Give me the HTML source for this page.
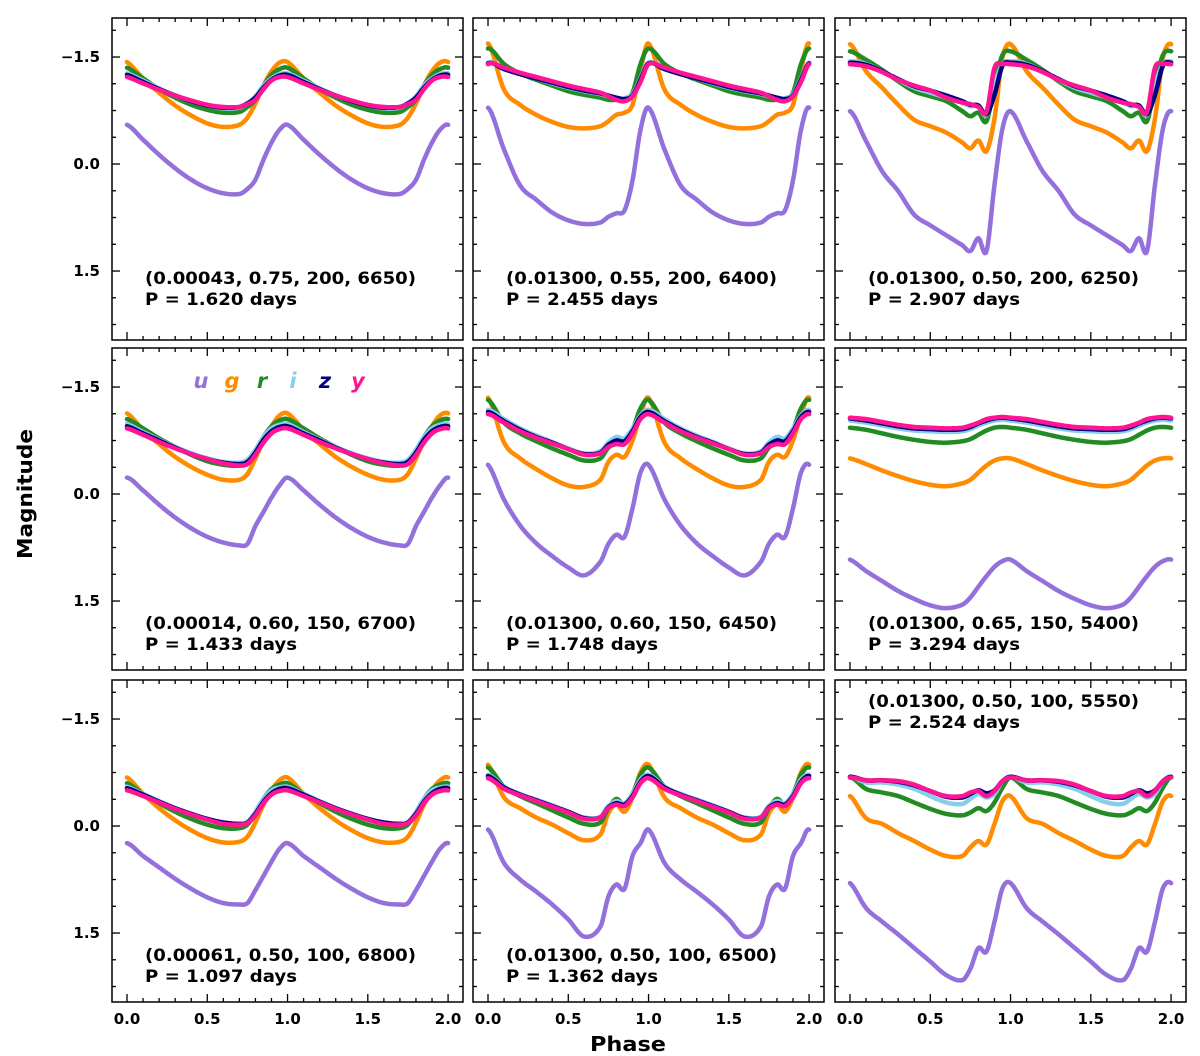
<!DOCTYPE html>
<html><head><meta charset="utf-8"><style>
body{margin:0;background:#fff;}
svg{display:block;font-family:"DejaVu Sans","Liberation Sans",sans-serif;}
</style></head><body>
<svg id="fig" width="1200" height="1056" viewBox="0 0 1200 1056">
<text x="32" y="494" transform="rotate(-90 32 494)" text-anchor="middle" font-size="20" font-weight="bold" textLength="130" lengthAdjust="spacingAndGlyphs">Magnitude</text>
<text x="628" y="1051" text-anchor="middle" font-size="20" font-weight="bold" textLength="76" lengthAdjust="spacingAndGlyphs">Phase</text>
</svg>
<script>
const phases=[0,0.1,0.2,0.3,0.4,0.5,0.6,0.7,0.75,0.8,0.85,0.9,0.95];
const bands=['u','g','r','i','z','y'];
const bandColors=['#9370DB','#FF8C00','#228B22','#87CEEB','#000080','#FF1493'];
const yTicks=[-1.5,0,1.5];
const yTickLabels=['\u22121.5','0.0','1.5'];
const xTicks=[0,0.5,1,1.5,2];
const xTickLabels=['0.0','0.5','1.0','1.5','2.0'];
const labels1=['(0.00043, 0.75, 200, 6650)','(0.01300, 0.55, 200, 6400)','(0.01300, 0.50, 200, 6250)','(0.00014, 0.60, 150, 6700)','(0.01300, 0.60, 150, 6450)','(0.01300, 0.65, 150, 5400)','(0.00061, 0.50, 100, 6800)','(0.01300, 0.50, 100, 6500)','(0.01300, 0.50, 100, 5550)'];
const periods=['1.620','2.455','2.907','1.433','1.748','3.294','1.097','1.362','2.524'];
const p1u=[-0.55,-0.34,-0.13,0.06,0.22,0.34,0.41,0.42,0.35,0.22,-0.06,-0.3,-0.48];
const p1g=[-1.43,-1.2,-1.0,-0.82,-0.68,-0.57,-0.52,-0.55,-0.65,-0.85,-1.1,-1.3,-1.42];
const p1r=[-1.35,-1.2,-1.05,-0.93,-0.83,-0.76,-0.72,-0.73,-0.8,-0.9,-1.1,-1.25,-1.33];
const p1i=[-1.27,-1.17,-1.06,-0.96,-0.88,-0.82,-0.78,-0.79,-0.85,-0.95,-1.1,-1.2,-1.26];
const p1z=[-1.25,-1.15,-1.05,-0.96,-0.88,-0.82,-0.79,-0.8,-0.85,-0.93,-1.07,-1.18,-1.24];
const p1y=[-1.22,-1.13,-1.04,-0.96,-0.89,-0.83,-0.8,-0.8,-0.84,-0.9,-1.05,-1.17,-1.22];
const p2u=[-0.79,-0.2,0.3,0.5,0.68,0.79,0.84,0.82,0.74,0.69,0.65,0.23,-0.48];
const p2g=[-1.69,-1.04,-0.83,-0.69,-0.59,-0.52,-0.5,-0.53,-0.6,-0.69,-0.72,-0.83,-1.32];
const p2r=[-1.62,-1.4,-1.27,-1.18,-1.1,-1.02,-0.97,-0.93,-0.9,-0.9,-0.92,-1.0,-1.4];
const p2i=[-1.42,-1.33,-1.26,-1.2,-1.13,-1.07,-1.02,-0.98,-0.95,-0.93,-0.92,-0.98,-1.2];
const p2z=[-1.41,-1.33,-1.26,-1.2,-1.14,-1.08,-1.03,-0.99,-0.96,-0.93,-0.91,-0.96,-1.18];
const p2y=[-1.4,-1.35,-1.28,-1.22,-1.16,-1.1,-1.05,-1.0,-0.95,-0.9,-0.88,-0.95,-1.15];
const p3u=[-0.74,-0.32,0.1,0.38,0.71,0.86,1.0,1.14,1.22,1.04,1.22,0.29,-0.5];
const p3g=[-1.68,-1.3,-1.07,-0.83,-0.62,-0.53,-0.44,-0.3,-0.22,-0.33,-0.18,-0.64,-1.49];
const p3r=[-1.58,-1.46,-1.32,-1.16,-1.02,-0.95,-0.88,-0.74,-0.67,-0.72,-0.6,-1.11,-1.53];
const p3i=[-1.44,-1.4,-1.3,-1.18,-1.07,-1.0,-0.93,-0.86,-0.81,-0.81,-0.69,-1.11,-1.4];
const p3z=[-1.42,-1.39,-1.3,-1.19,-1.09,-1.03,-0.96,-0.88,-0.83,-0.82,-0.7,-0.97,-1.38];
const p3y=[-1.4,-1.37,-1.29,-1.18,-1.1,-1.03,-0.93,-0.86,-0.84,-0.8,-0.73,-1.35,-1.4];
const p4u=[-0.23,-0.05,0.15,0.33,0.48,0.6,0.68,0.72,0.7,0.45,0.25,0.05,-0.12];
const p4g=[-1.13,-0.9,-0.7,-0.52,-0.38,-0.27,-0.2,-0.2,-0.28,-0.5,-0.75,-0.95,-1.1];
const p4r=[-1.05,-0.92,-0.78,-0.66,-0.55,-0.46,-0.41,-0.4,-0.45,-0.6,-0.8,-0.95,-1.03];
const p4i=[-0.98,-0.87,-0.76,-0.66,-0.57,-0.5,-0.45,-0.44,-0.48,-0.62,-0.8,-0.92,-0.97];
const p4z=[-0.95,-0.85,-0.75,-0.65,-0.56,-0.49,-0.44,-0.42,-0.45,-0.58,-0.76,-0.88,-0.94];
const p4y=[-0.92,-0.83,-0.73,-0.64,-0.56,-0.49,-0.43,-0.4,-0.42,-0.55,-0.72,-0.85,-0.91];
const p5u=[-0.41,0.08,0.44,0.69,0.87,1.03,1.14,0.95,0.7,0.57,0.6,0.2,-0.3];
const p5g=[-1.35,-0.72,-0.5,-0.35,-0.22,-0.12,-0.1,-0.2,-0.45,-0.55,-0.52,-0.75,-1.1];
const p5r=[-1.32,-1.0,-0.85,-0.74,-0.64,-0.55,-0.47,-0.5,-0.65,-0.72,-0.7,-0.9,-1.2];
const p5i=[-1.18,-1.05,-0.92,-0.82,-0.73,-0.64,-0.57,-0.6,-0.72,-0.8,-0.78,-0.92,-1.1];
const p5z=[-1.15,-1.02,-0.9,-0.8,-0.72,-0.63,-0.56,-0.58,-0.69,-0.75,-0.74,-0.88,-1.08];
const p5y=[-1.12,-1.0,-0.88,-0.79,-0.71,-0.63,-0.55,-0.57,-0.66,-0.7,-0.7,-0.85,-1.05];
const p6u=[0.92,1.08,1.22,1.36,1.47,1.56,1.6,1.55,1.45,1.3,1.15,1.02,0.94];
const p6g=[-0.5,-0.42,-0.33,-0.25,-0.18,-0.13,-0.11,-0.15,-0.2,-0.3,-0.4,-0.47,-0.5];
const p6r=[-0.93,-0.9,-0.85,-0.8,-0.76,-0.73,-0.72,-0.74,-0.77,-0.83,-0.89,-0.93,-0.94];
const p6i=[-1.03,-1.0,-0.96,-0.92,-0.89,-0.88,-0.87,-0.88,-0.91,-0.96,-1.0,-1.03,-1.04];
const p6z=[-1.06,-1.03,-0.99,-0.95,-0.92,-0.91,-0.9,-0.91,-0.94,-0.99,-1.03,-1.06,-1.07];
const p6y=[-1.07,-1.05,-1.01,-0.97,-0.94,-0.93,-0.92,-0.93,-0.96,-1.0,-1.05,-1.07,-1.08];
const p7u=[0.24,0.42,0.58,0.74,0.88,1.0,1.08,1.1,1.08,0.9,0.7,0.5,0.32];
const p7g=[-0.68,-0.45,-0.25,-0.08,0.06,0.17,0.23,0.22,0.15,-0.05,-0.3,-0.5,-0.64];
const p7r=[-0.6,-0.45,-0.32,-0.2,-0.1,-0.02,0.03,0.03,-0.02,-0.18,-0.38,-0.52,-0.58];
const p7i=[-0.55,-0.45,-0.35,-0.25,-0.17,-0.1,-0.04,-0.02,-0.05,-0.2,-0.38,-0.5,-0.54];
const p7z=[-0.53,-0.44,-0.34,-0.25,-0.17,-0.1,-0.05,-0.03,-0.05,-0.17,-0.34,-0.46,-0.52];
const p7y=[-0.5,-0.42,-0.33,-0.24,-0.16,-0.09,-0.03,-0.02,-0.04,-0.15,-0.32,-0.44,-0.49];
const p8u=[0.05,0.52,0.75,0.92,1.1,1.31,1.55,1.41,0.99,0.82,0.88,0.42,0.24];
const p8g=[-0.86,-0.4,-0.25,-0.12,-0.02,0.1,0.2,0.12,-0.18,-0.3,-0.2,-0.4,-0.75];
const p8r=[-0.82,-0.55,-0.42,-0.32,-0.22,-0.12,-0.03,-0.05,-0.25,-0.38,-0.3,-0.45,-0.72];
const p8i=[-0.72,-0.55,-0.45,-0.37,-0.29,-0.2,-0.12,-0.13,-0.28,-0.35,-0.32,-0.45,-0.65];
const p8z=[-0.7,-0.54,-0.44,-0.36,-0.28,-0.2,-0.11,-0.12,-0.26,-0.32,-0.3,-0.42,-0.62];
const p8y=[-0.67,-0.52,-0.43,-0.35,-0.27,-0.19,-0.1,-0.12,-0.25,-0.3,-0.28,-0.4,-0.6];
const p9u=[0.8,1.15,1.34,1.52,1.71,1.9,2.09,2.16,2.0,1.71,1.76,1.34,0.87];
const p9g=[-0.42,-0.11,-0.03,0.1,0.21,0.33,0.42,0.42,0.3,0.21,0.26,-0.03,-0.35];
const p9r=[-0.68,-0.52,-0.47,-0.42,-0.33,-0.24,-0.17,-0.15,-0.19,-0.25,-0.21,-0.33,-0.54];
const p9i=[-0.69,-0.61,-0.61,-0.58,-0.52,-0.42,-0.33,-0.31,-0.38,-0.45,-0.4,-0.45,-0.63];
const p9z=[-0.69,-0.64,-0.64,-0.62,-0.57,-0.49,-0.41,-0.4,-0.45,-0.5,-0.46,-0.5,-0.63];
const p9y=[-0.68,-0.64,-0.64,-0.63,-0.58,-0.49,-0.42,-0.42,-0.47,-0.49,-0.42,-0.49,-0.63];
const panelData=[[p1u,p1g,p1r,p1i,p1z,p1y],[p2u,p2g,p2r,p2i,p2z,p2y],[p3u,p3g,p3r,p3i,p3z,p3y],[p4u,p4g,p4r,p4i,p4z,p4y],[p5u,p5g,p5r,p5i,p5z,p5y],[p6u,p6g,p6r,p6i,p6z,p6y],[p7u,p7g,p7r,p7i,p7z,p7y],[p8u,p8g,p8r,p8i,p8z,p8y],[p9u,p9g,p9r,p9i,p9z,p9y]];

const NS='http://www.w3.org/2000/svg';
const svg=document.getElementById('fig');
const colL=[112,473,835], rowT=[18,348,680], PW=351, PH=322;
const XMIN=-0.0935, XMAX=2.093, YMIN=-2.047, YMAX=2.467;
function mk(tag,attrs,parent){const e=document.createElementNS(NS,tag);for(const k in attrs)e.setAttribute(k,attrs[k]);(parent||svg).appendChild(e);return e;}
function interp(arr,ph){
  const n=phases.length;
  ph=((ph%1)+1)%1;
  let k=0;while(k<n-1&&ph>=phases[k+1])k++;
  const getV=j=>{const jj=((j%n)+n)%n;return arr[jj];};
  const getP=j=>{const c=Math.floor(j/n);const jj=((j%n)+n)%n;return phases[jj]+c;};
  const p0=getP(k-1),p1=getP(k),p2=getP(k+1),p3=getP(k+2);
  const v0=getV(k-1),v1=getV(k),v2=getV(k+1),v3=getV(k+2);
  const t=(ph-p1)/(p2-p1);
  const m1=(v2-v0)/(p2-p0)*(p2-p1), m2=(v3-v1)/(p3-p1)*(p2-p1);
  const t2=t*t,t3=t2*t;
  return (2*t3-3*t2+1)*v1+(t3-2*t2+t)*m1+(-2*t3+3*t2)*v2+(t3-t2)*m2;
}
for(let p=0;p<9;p++){
  const c=p%3,r=Math.floor(p/3);
  const L=colL[c],T=rowT[r];
  const xs=v=>L+(v-XMIN)/(XMAX-XMIN)*PW;
  const ys=v=>T+(v-YMIN)/(YMAX-YMIN)*PH;
  const g=mk('g',{});
  
  
  const clipId='clip'+p;
  const cp=mk('clipPath',{id:clipId},g);mk('rect',{x:L,y:T,width:PW,height:PH},cp);
  const lines=mk('g',{'clip-path':'url(#'+clipId+')'},g);
  panelData[p].forEach((arr,b)=>{
    let d='';
    for(let s=0;s<=400;s++){const ph=s/200;const x=xs(ph),y=ys(interp(arr,ph));d+=(s?'L':'M')+x.toFixed(1)+' '+y.toFixed(1);}
    const path=mk('path',{d:d,fill:'none',stroke:bandColors[b],'stroke-width':4.5,'stroke-linejoin':'round','stroke-linecap':'round'},lines);
    
    
  });
  mk('rect',{x:L,y:T,width:PW,height:PH,fill:'none',stroke:'#000','stroke-width':1.5},g);
  for(let k=-5;k<=6;k++){const v=k*0.375;const y=ys(v);if(y<T+1||y>T+PH-1)continue;const maj=(k%4===0);const len=maj?8:4;
    mk('line',{x1:L,x2:L+len,y1:y,y2:y,stroke:'#000','stroke-width':1.3},g);
    mk('line',{x1:L+PW,x2:L+PW-len,y1:y,y2:y,stroke:'#000','stroke-width':1.3},g);}
  for(let k=0;k<=20;k++){const v=k*0.1;const x=xs(v);const maj=(k%5===0);const len=maj?8:4;
    mk('line',{x1:x,x2:x,y1:T+PH,y2:T+PH-len,stroke:'#000','stroke-width':1.3},g);
    mk('line',{x1:x,x2:x,y1:T,y2:T+len,stroke:'#000','stroke-width':1.3},g);}
  if(c===0){yTicks.forEach((v,i)=>{const t=mk('text',{x:L-12,y:ys(v)+5,'text-anchor':'end','font-size':15,'font-weight':'bold'},g);t.textContent=yTickLabels[i];
    });}
  if(r===2){xTicks.forEach((v,i)=>{const t=mk('text',{x:xs(v),y:T+PH+22,'text-anchor':'middle','font-size':15,'font-weight':'bold'},g);t.textContent=xTickLabels[i];
    });}
  const ty=(p===8)?T+27:(r===0?T+266:T+281);
  const a=mk('text',{x:L+33,y:ty,'font-size':16.5,'font-weight':'bold',textLength:271,lengthAdjust:'spacingAndGlyphs'},g);a.textContent=labels1[p];
  
  const b=mk('text',{x:L+33,y:ty+21,'font-size':16.5,'font-weight':'bold',textLength:152,lengthAdjust:'spacingAndGlyphs'},g);b.textContent='P = '+periods[p]+' days';
  
}
const legX=[201,232,262,293,325,358];
bands.forEach((bn,i)=>{const t=mk('text',{x:legX[i],y:388,'text-anchor':'middle','font-size':21,'font-weight':'bold','font-style':'italic',fill:bandColors[i]});t.textContent=bn;
  });
</script>
</body></html>
